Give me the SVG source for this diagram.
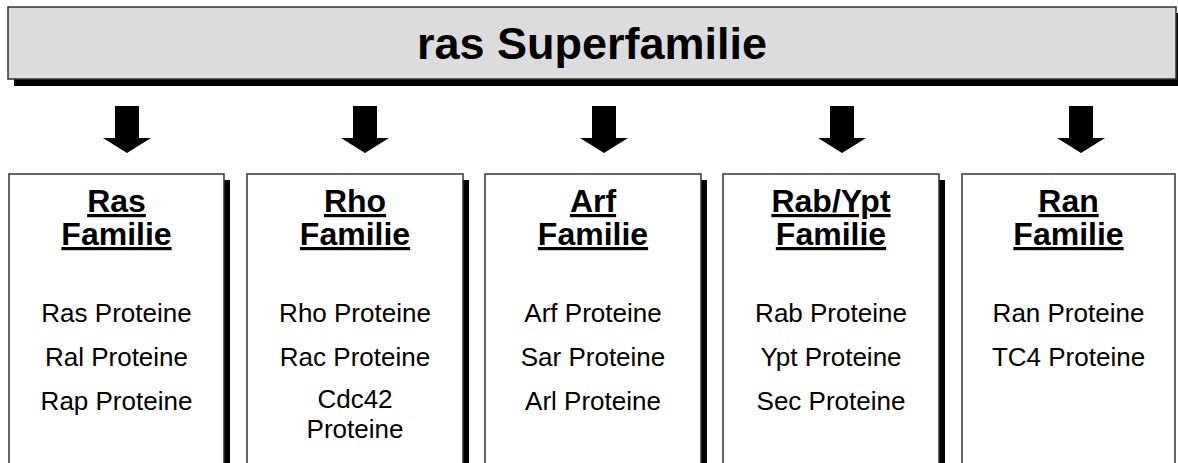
<svg xmlns="http://www.w3.org/2000/svg" width="1178" height="463" viewBox="0 0 1178 463">
<defs>
<style>
.box{fill:#ffffff;stroke:#333333;stroke-width:1.5}
.shadow{fill:#000000}
.head{font-family:"Liberation Sans",Arial,sans-serif;font-weight:bold;font-size:32px;text-anchor:middle;fill:#000;text-decoration:underline}
.item{font-family:"Liberation Sans",Arial,sans-serif;font-size:26px;text-anchor:middle;fill:#000}
.title{font-family:"Liberation Sans",Arial,sans-serif;font-weight:bold;font-size:45px;text-anchor:middle;fill:#000}
.arrow{fill:#000}
</style>
<path id="arr" d="M-12,0 H12 V32 H24 L0,47 L-24,32 H-12 Z"/>
</defs>
<rect width="1178" height="463" fill="#ffffff"/>
<g id="superfamily">
<rect class="shadow" x="14" y="13" width="1170" height="73"/>
<rect x="8" y="7" width="1168" height="72" fill="#dcdcdc" stroke="#333333" stroke-width="1.5"/>
<text class="title" x="592" y="59">ras Superfamilie</text>
</g>
<g id="connectors">
<use href="#arr" class="arrow" x="127" y="106"/>
<use href="#arr" class="arrow" x="365" y="106"/>
<use href="#arr" class="arrow" x="604" y="106"/>
<use href="#arr" class="arrow" x="842" y="106"/>
<use href="#arr" class="arrow" x="1081" y="106"/>
</g>
<g id="ras">
<rect class="shadow" x="224" y="180" width="6" height="283"/>
<rect class="box" x="9" y="174" width="215" height="292"/>
<text class="head" x="116.5" y="212">Ras</text>
<text class="head" x="116.5" y="245">Familie</text>
<text class="item" x="116.5" y="322">Ras Proteine</text>
<text class="item" x="116.5" y="366">Ral Proteine</text>
<text class="item" x="116.5" y="410">Rap Proteine</text>
</g>
<g id="rho">
<rect class="shadow" x="463" y="180" width="6" height="283"/>
<rect class="box" x="247" y="174" width="216" height="292"/>
<text class="head" x="355" y="212">Rho</text>
<text class="head" x="355" y="245">Familie</text>
<text class="item" x="355" y="322">Rho Proteine</text>
<text class="item" x="355" y="366">Rac Proteine</text>
<text class="item" x="355" y="408">Cdc42</text>
<text class="item" x="355" y="438">Proteine</text>
</g>
<g id="arf">
<rect class="shadow" x="701" y="180" width="6" height="283"/>
<rect class="box" x="485" y="174" width="216" height="292"/>
<text class="head" x="593" y="212">Arf</text>
<text class="head" x="593" y="245">Familie</text>
<text class="item" x="593" y="322">Arf Proteine</text>
<text class="item" x="593" y="366">Sar Proteine</text>
<text class="item" x="593" y="410">Arl Proteine</text>
</g>
<g id="rab">
<rect class="shadow" x="939" y="180" width="6" height="283"/>
<rect class="box" x="723" y="174" width="216" height="292"/>
<text class="head" x="831" y="212">Rab/Ypt</text>
<text class="head" x="831" y="245">Familie</text>
<text class="item" x="831" y="322">Rab Proteine</text>
<text class="item" x="831" y="366">Ypt Proteine</text>
<text class="item" x="831" y="410">Sec Proteine</text>
</g>
<g id="ran">
<rect class="box" x="962" y="174" width="213" height="292"/>
<text class="head" x="1068.5" y="212">Ran</text>
<text class="head" x="1068.5" y="245">Familie</text>
<text class="item" x="1068.5" y="322">Ran Proteine</text>
<text class="item" x="1068.5" y="366">TC4 Proteine</text>
</g>
</svg>
